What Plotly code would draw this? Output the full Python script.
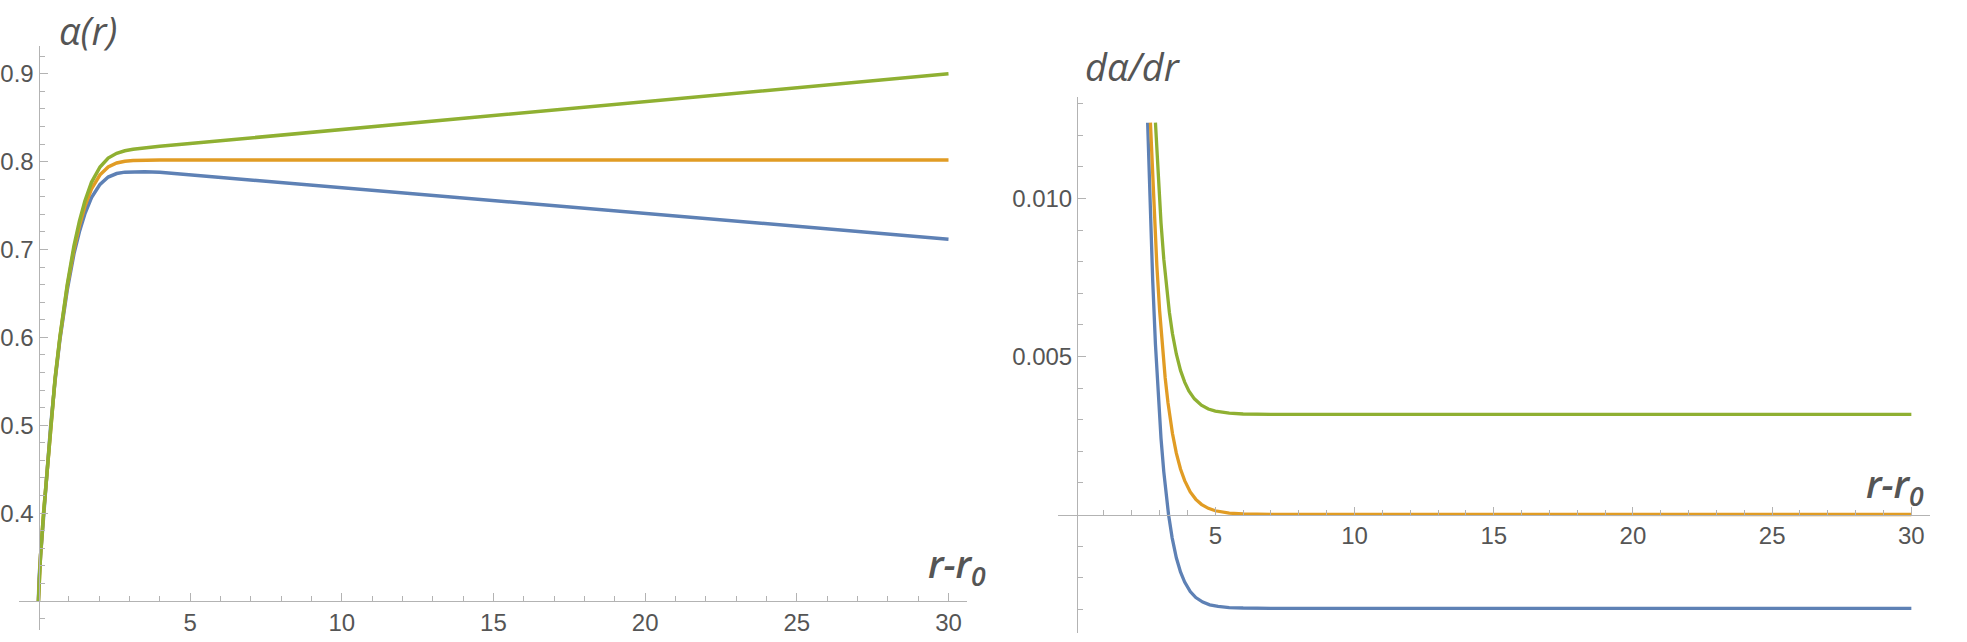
import plotly.graph_objects as go

# ---------------- data: alpha(r) ----------------
r_alpha = [0, 0.02, 0.07, 0.17, 0.40, 0.55, 0.71, 0.95, 1.17, 1.35, 1.53, 1.75, 2.03,
           2.30, 2.58, 2.85, 3.12, 3.5, 4, 5, 6, 10, 15, 20, 25, 30]
alpha_blue = [0.300, 0.325, 0.351, 0.399, 0.498, 0.551, 0.598, 0.654, 0.695, 0.7202,
              0.7405, 0.7592, 0.7742, 0.7825, 0.7865, 0.7881, 0.7886, 0.7886, 0.7879,
              0.7850, 0.7821, 0.7704, 0.7557, 0.7411, 0.7264, 0.7118]
alpha_orange = [0.300, 0.325, 0.352, 0.400, 0.500, 0.553, 0.600, 0.658, 0.700, 0.727,
                0.749, 0.769, 0.785, 0.794, 0.7985, 0.8005, 0.8013, 0.8018, 0.8020,
                0.8020, 0.8020, 0.8020, 0.8020, 0.8020, 0.8020, 0.8020]
alpha_green = [0.300, 0.325, 0.352, 0.400, 0.500, 0.554, 0.601, 0.660, 0.704, 0.732,
               0.755, 0.7765, 0.794, 0.8041, 0.8095, 0.8124, 0.8141, 0.8158, 0.8175,
               0.8207, 0.8239, 0.8366, 0.8524, 0.8683, 0.8842, 0.9000]

# ---------------- data: d alpha / dr ----------------
r_d_blue = [2.57, 2.65, 2.75, 2.85, 2.95, 3.05, 3.15, 3.25, 3.32, 3.45, 3.6, 3.75, 3.9,
            4.1, 4.3, 4.55, 4.8, 5.1, 5.5, 6, 7, 30]
d_blue = [0.0124, 0.0100, 0.00744, 0.00538, 0.00373, 0.00241, 0.00135, 0.00049, 0.0,
          -0.00074, -0.00137, -0.00182, -0.00214, -0.00244, -0.00263, -0.00277,
          -0.00286, -0.00291, -0.002945, -0.00296, -0.00297, -0.00297]
r_d_orange = [2.67, 2.8, 2.9, 3.0, 3.1, 3.2, 3.3, 3.46, 3.6, 3.75, 3.9, 4.1, 4.3, 4.5,
              4.75, 5.0, 5.5, 6, 7, 30]
d_orange = [0.0124, 0.00962, 0.00788, 0.00645, 0.00528, 0.00432, 0.00354, 0.00257,
            0.00194, 0.00144, 0.00107, 0.000714, 0.000479, 0.000321, 0.000195,
            0.000118, 0.0000435, 0.000016, 0.000002, 0.0]
r_d_green = [2.85, 2.95, 3.05, 3.15, 3.25, 3.35, 3.46, 3.6, 3.75, 3.9, 4.05, 4.25, 4.5,
             4.75, 5.0, 5.5, 6, 7, 30]
d_green = [0.0124, 0.01064, 0.00923, 0.00808, 0.00715, 0.00640, 0.00573, 0.00508,
           0.00456, 0.00419, 0.00391, 0.00366, 0.00346, 0.00334, 0.00327, 0.003205,
           0.00318, 0.00317, 0.00317]

# ---------------- ticks ----------------
x_major = [5, 10, 15, 20, 25, 30]
x_labels = ["5", "10", "15", "20", "25", "30"]
x_minor = [v for v in range(1, 30) if v % 5 != 0]
y1_major = [0.4, 0.5, 0.6, 0.7, 0.8, 0.9]
y1_labels = ["0.4", "0.5", "0.6", "0.7", "0.8", "0.9"]
y1_minor = [0.28, 0.30, 0.32, 0.34, 0.36, 0.38, 0.42, 0.44, 0.46, 0.48, 0.52, 0.54,
            0.56, 0.58, 0.62, 0.64, 0.66, 0.68, 0.72, 0.74, 0.76, 0.78, 0.82, 0.84,
            0.86, 0.88, 0.92]
y2_major = [0.005, 0.010]
y2_labels = ["0.005", "0.010"]
y2_minor = [-0.003, -0.002, -0.001, 0.001, 0.002, 0.003, 0.004, 0.006, 0.007, 0.008,
            0.009, 0.011, 0.012, 0.013]

BLUE, ORANGE, GREEN = "#5E81B5", "#E19C24", "#8FB032"
AXC = "#b3b3b3"
TXT = "#555555"
W, H = 1967, 642

fig = go.Figure()
for xs, ys, c in [(r_alpha, alpha_blue, BLUE), (r_alpha, alpha_orange, ORANGE),
                  (r_alpha, alpha_green, GREEN)]:
    fig.add_trace(go.Scatter(x=xs, y=ys, mode="lines", line=dict(color=c, width=3.5),
                             xaxis="x", yaxis="y", showlegend=False))
for xs, ys, c in [(r_d_blue, d_blue, BLUE), (r_d_orange, d_orange, ORANGE),
                  (r_d_green, d_green, GREEN)]:
    fig.add_trace(go.Scatter(x=xs, y=ys, mode="lines", line=dict(color=c, width=3.3),
                             xaxis="x2", yaxis="y2", showlegend=False))

tickfont = dict(family="Liberation Sans, Arial", size=24, color=TXT)


def xax(domain, rng, pos):
    return dict(domain=domain, range=rng, anchor="free", position=pos, showline=True,
                linecolor=AXC, linewidth=1, ticks="inside", ticklen=8, tickcolor=AXC,
                tickwidth=1, tickmode="array", tickvals=x_major, ticktext=x_labels,
                minor=dict(tickmode="array", tickvals=x_minor, ticks="inside", ticklen=5,
                           tickcolor=AXC, tickwidth=1, showgrid=False),
                showgrid=False, zeroline=False, tickfont=tickfont, fixedrange=True)


def yax(domain, rng, pos, tv, tt, mv):
    return dict(domain=domain, range=rng, anchor="free", position=pos, showline=True,
                linecolor=AXC, linewidth=1, ticks="inside", ticklen=8, tickcolor=AXC,
                tickwidth=1, tickmode="array", tickvals=tv, ticktext=tt,
                minor=dict(tickmode="array", tickvals=mv, ticks="inside", ticklen=5,
                           tickcolor=AXC, tickwidth=1, showgrid=False),
                showgrid=False, zeroline=False, tickfont=tickfont, fixedrange=True)


fig.update_layout(
    width=W, height=H, margin=dict(l=0, r=0, t=0, b=0),
    paper_bgcolor="white", plot_bgcolor="white",
    xaxis=xax([19 / W, 966.7 / W], [-0.64, 30.6], (H - 601) / H),
    yaxis=yax([(H - 630) / H, (H - 45.7) / H], [0.267, 0.932], 38.5 / W,
              y1_major, y1_labels, y1_minor),
    xaxis2=xax([1058 / W, 1930 / W], [-0.65, 30.67], (H - 514.5) / H),
    yaxis2=yax([(H - 633.3) / H, (H - 97.4) / H], [-0.00376, 0.0132], 1077 / W,
               y2_major, y2_labels, y2_minor),
)

labfont = dict(family="Open Sans", size=38, color=TXT)
fig.add_annotation(text="<i>α(r)</i>", x=88 / W, y=(H - 30) / H, xref="paper",
                   yref="paper", showarrow=False, xanchor="center", yanchor="middle",
                   font=labfont)
fig.add_annotation(text="<i>dα/dr</i>", x=1133 / W, y=(H - 66) / H, xref="paper",
                   yref="paper", showarrow=False, xanchor="center", yanchor="middle",
                   font=labfont)
rfont = dict(family="Open Sans", size=38, color=TXT, weight=600)
fig.add_annotation(text="<i>r-r<sub>0</sub></i>", x=957 / W, y=(H - 565) / H,
                   xref="paper", yref="paper", showarrow=False, xanchor="center",
                   yanchor="middle", font=rfont)
fig.add_annotation(text="<i>r-r<sub>0</sub></i>", x=1895 / W, y=(H - 485) / H,
                   xref="paper", yref="paper", showarrow=False, xanchor="center",
                   yanchor="middle", font=rfont)

fig.write_html("out.html")
